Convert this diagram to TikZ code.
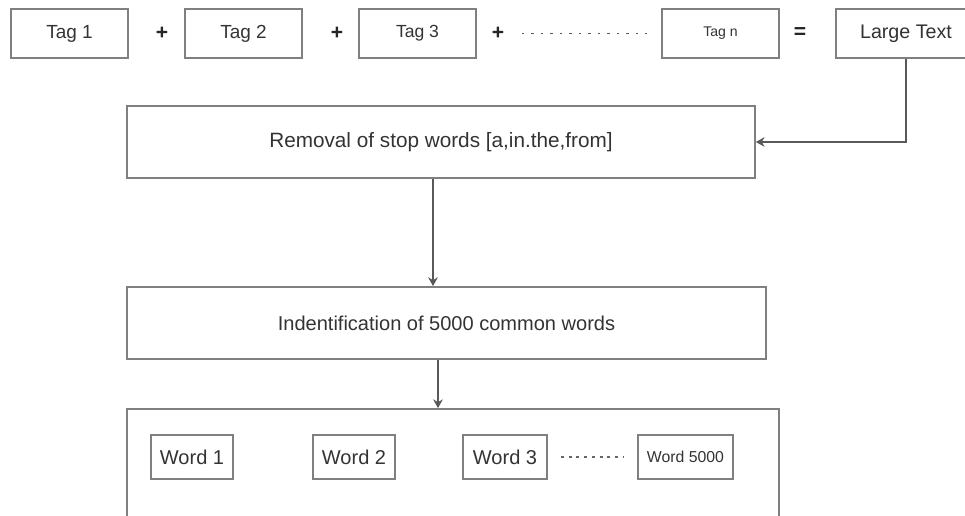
\documentclass[tikz,border=0pt]{standalone}
\usepackage{fontspec}
\setmainfont{Liberation Sans}
\usetikzlibrary{arrows.meta,positioning,calc}

\begin{document}
\begin{tikzpicture}[x=0.02cm, y=-0.02cm, >={Stealth[length=5pt,width=5.5pt]},
  box/.style={draw=black!50, line width=1pt, inner sep=0pt, text=black!80},
  tag/.style={box, minimum width=2.34cm, minimum height=0.98cm},
  wrd/.style={box, minimum height=0.88cm},
  op/.style={text=black!85, font=\bfseries\fontsize{12}{14}\selectfont},
  link/.style={draw=black!65, line width=0.7pt},
]
  \clip (0,0) rectangle (965,516);

  % input tags
  \node[tag, font=\fontsize{10.8}{13}\selectfont] (t1) at (69.5,33.5) {Tag 1};
  \node[op] (p1) at (162,33.5) {+};
  \node[tag, font=\fontsize{10.8}{13}\selectfont] (t2) at (243.5,33.5) {Tag 2};
  \node[op] (p2) at (337,33.5) {+};
  \node[tag, font=\fontsize{10}{12}\selectfont] (t3) at (417.5,33.5) {Tag 3};
  \node[op] (p3) at (498,33.5) {+};
  \coordinate (d1) at (522,33.5);
  \coordinate (d2) at (647,33.5);
  \draw[black!65, line width=1.1pt, dash pattern=on 1.3pt off 4.1pt] (d1) -- (d2);
  \node[tag, font=\fontsize{8}{10}\selectfont] (tn) at (720.5,33.5) {Tag n};
  \node[op] (eq) at (800,33.5) {=};
  \node[tag, minimum width=2.8cm, font=\fontsize{11.2}{13}\selectfont] (lt) at (906,33.5) {Large Text};

  % processing steps
  \node[box, minimum width=12.56cm, minimum height=1.44cm, font=\fontsize{11.8}{14}\selectfont]
        (rem) at (441,142) {Removal of stop words [a,in.the,from]};
  \node[box, minimum width=12.78cm, minimum height=1.44cm, font=\fontsize{11.4}{14}\selectfont]
        (ind) at (446.5,323) {Indentification of 5000 common words};
  \node[box, minimum width=13.04cm, minimum height=2.4cm] (out) at (453,469) {};

  \draw[link, ->] (lt.south) |- (rem.east);
  \draw[link, ->] ([xshift=-0.16cm]rem.south) -- ([xshift=-0.16cm]rem.south |- ind.north);
  \draw[link, ->] ([xshift=-0.17cm]ind.south) -- ([xshift=-0.17cm]ind.south |- out.north);

  % common words
  \node[wrd, minimum width=1.64cm, font=\fontsize{11.4}{13}\selectfont] (w1) at (192,457) {Word 1};
  \node[wrd, minimum width=1.64cm, font=\fontsize{11.4}{13}\selectfont] (w2) at (354,457) {Word 2};
  \node[wrd, minimum width=1.68cm, font=\fontsize{11.4}{13}\selectfont] (w3) at (505,457) {Word 3};
  \node[wrd, minimum width=1.9cm, font=\fontsize{9}{11}\selectfont] (w4) at (685.5,457) {Word 5000};
  \draw[black!60, line width=0.8pt, dash pattern=on 1.8pt off 2.6pt,
        shorten <=0.26cm, shorten >=0.26cm] (w3.east) -- (w4.west);
\end{tikzpicture}
\end{document}
